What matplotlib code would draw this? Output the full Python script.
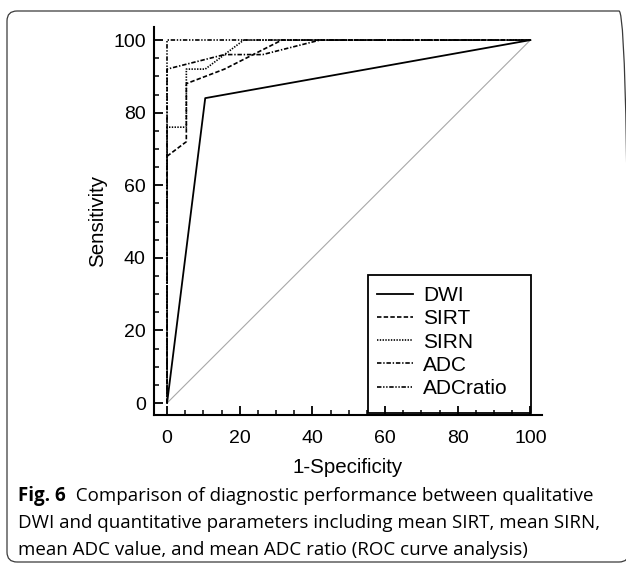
import matplotlib
matplotlib.use("Agg")
import matplotlib.pyplot as plt
from matplotlib.patches import FancyBboxPatch, Rectangle
from matplotlib.ticker import MultipleLocator
from matplotlib.transforms import IdentityTransform

plt.rcParams['font.family'] = ['Liberation Sans', 'DejaVu Sans']
plt.rcParams['lines.scale_dashes'] = False

# ROC curves, (1-specificity, sensitivity) in percent
dwi_x = [0, 10.5, 100]
dwi_y = [0, 84, 100]
sirt_x = [0, 0, 5.3, 5.3, 15.8, 31.6, 100]
sirt_y = [0, 68, 72, 88, 92, 100, 100]
sirn_x = [0, 0, 5.3, 5.3, 10.5, 15.8, 21.1, 100]
sirn_y = [0, 76, 76, 92, 92, 96, 100, 100]
adc_x = [0, 0, 15.8, 26.3, 42.1, 100]
adc_y = [0, 92, 96, 96, 100, 100]
ratio_x = [0, 0, 100]
ratio_y = [0, 100, 100]

labels = ["DWI", "SIRT", "SIRN", "ADC", "ADCratio"]
ticks = [0, 20, 40, 60, 80, 100]

caption_bold = "Fig. 6"
caption_lines = [
    "  Comparison of diagnostic performance between qualitative",
    "DWI and quantitative parameters including mean SIRT, mean SIRN,",
    "mean ADC value, and mean ADC ratio (ROC curve analysis)",
]

W, H = 626, 563
fig = plt.figure(figsize=(W / 100, H / 100), dpi=100)
ax = fig.add_axes([154 / W, (H - 415) / H, 388 / W, 388 / H])

ax.plot([0, 100], [0, 100], color='#a8a8a8', lw=0.8)
ax.plot(dwi_x, dwi_y, color='black', lw=1.3, label=labels[0])
ax.plot(sirt_x, sirt_y, color='black', lw=1.2, dashes=(3.2, 1.6), label=labels[1])
ax.plot(sirn_x, sirn_y, color='black', lw=1.2, dashes=(1.0, 1.0), label=labels[2])
ax.plot(adc_x, adc_y, color='black', lw=1.2, dashes=(3.2, 1.3, 1.0, 1.3), label=labels[3])
ax.plot(ratio_x, ratio_y, color='black', lw=1.2,
        dashes=(3.2, 1.2, 1.0, 1.2, 1.0, 1.2), label=labels[4])

ax.set_xlim(-3.6, 103.2)
ax.set_ylim(-3.3, 103.6)
for s in ['top', 'right']:
    ax.spines[s].set_visible(False)
for s in ['left', 'bottom']:
    ax.spines[s].set_linewidth(1.5)
ax.set_xticks(ticks)
ax.set_yticks(ticks)
ax.xaxis.set_minor_locator(MultipleLocator(5))
ax.yaxis.set_minor_locator(MultipleLocator(5))
ax.tick_params(which='major', direction='in', length=6.5, width=1.3,
               labelsize=14, pad=6)
ax.tick_params(axis='x', which='major', pad=11)
ax.tick_params(which='minor', direction='in', length=3.6, width=1.1)
ax.set_xlabel("1-Specificity", fontsize=14.8, labelpad=8)
ax.set_ylabel("Sensitivity", fontsize=14.8, labelpad=4)

leg = ax.legend(loc='upper left', bbox_to_anchor=(0.575, 0.332), frameon=False,
                fontsize=15, borderpad=0, borderaxespad=0, handlelength=1.73,
                handletextpad=0.48, labelspacing=0.2)
ax.add_patch(Rectangle(((368 - 154) / 388, (415 - 413) / 388),
                       (531 - 368) / 388, (413 - 275) / 388,
                       transform=ax.transAxes, fill=False, lw=1.3,
                       edgecolor='black', clip_on=False))

# rounded frame around the figure panel
fig.patches.append(FancyBboxPatch((7, 1), 622, 551,
                                  boxstyle="round,pad=0,rounding_size=10",
                                  transform=IdentityTransform(), fill=False,
                                  edgecolor='#3a3a3a', lw=0.9))

cap_font = ['Open Sans', 'DejaVu Sans']
t = fig.text(18 / W, 1 - 496 / H, caption_bold, fontsize=13.5, fontweight='bold',
             family=cap_font, va='center', ha='left')
fig.canvas.draw()
bb = t.get_window_extent()
fig.text(bb.x1 / W, 1 - 496 / H, caption_lines[0], fontsize=13.5,
         family=cap_font, va='center', ha='left')
fig.text(18 / W, 1 - 523 / H, caption_lines[1], fontsize=13.5,
         family=cap_font, va='center', ha='left')
fig.text(18 / W, 1 - 550 / H, caption_lines[2], fontsize=13.5,
         family=cap_font, va='center', ha='left')

fig.savefig("out.png", dpi=100)
